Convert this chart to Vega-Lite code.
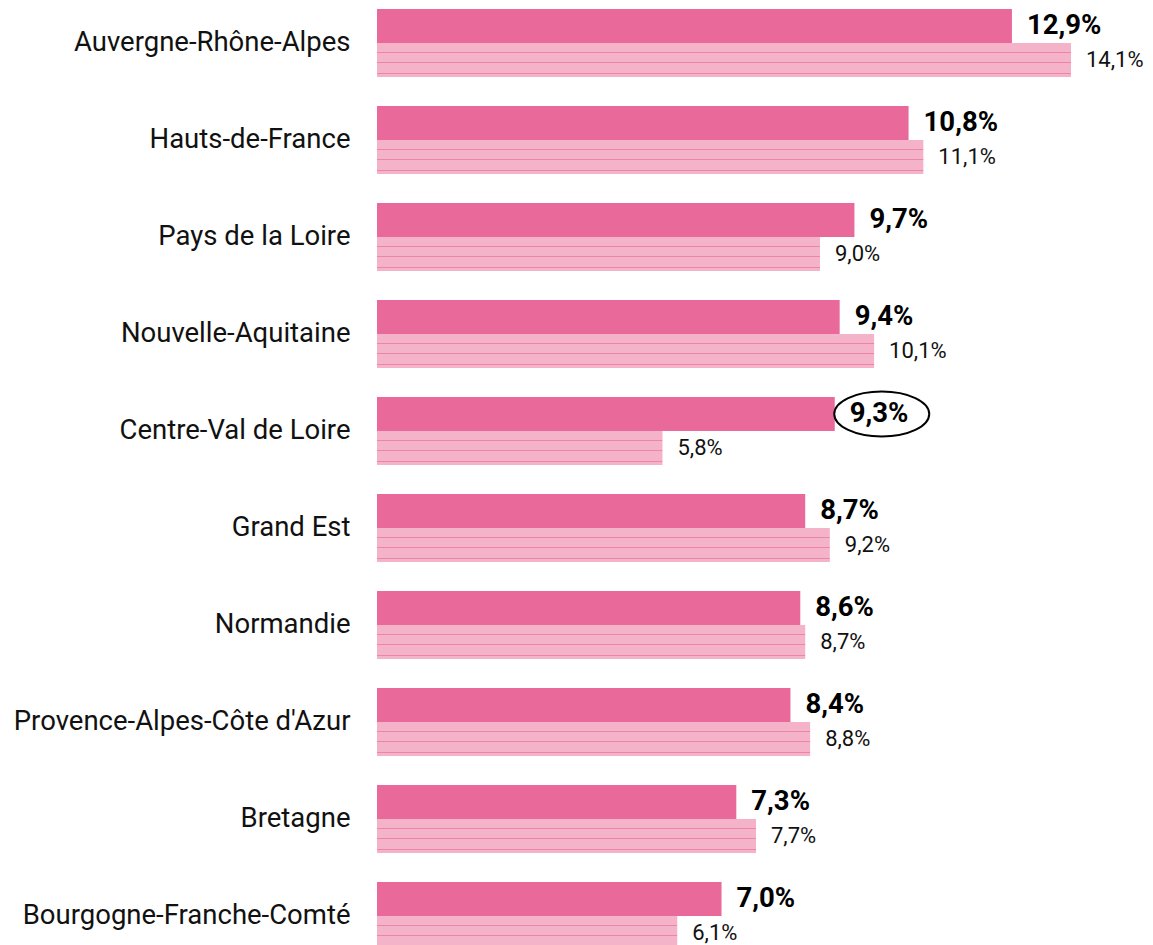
{
  "$schema": "https://vega.github.io/schema/vega-lite/v6.json",
  "autosize": {"type": "none"},
  "padding": {"left": 377, "top": 0, "right": 0, "bottom": 0},
  "width": 776,
  "height": 945,
  "config": {
    "font": "Roboto",
    "view": {"stroke": null},
    "locale": {"number": {"decimal": ",", "thousands": " ", "grouping": [3], "currency": ["", " €"]}}
  },
  "data": {
    "values": [
      {"region": "Auvergne-Rhône-Alpes", "serie": "2024", "taux": 0.129},
      {"region": "Auvergne-Rhône-Alpes", "serie": "2023", "taux": 0.141},
      {"region": "Hauts-de-France", "serie": "2024", "taux": 0.108},
      {"region": "Hauts-de-France", "serie": "2023", "taux": 0.111},
      {"region": "Pays de la Loire", "serie": "2024", "taux": 0.097},
      {"region": "Pays de la Loire", "serie": "2023", "taux": 0.090},
      {"region": "Nouvelle-Aquitaine", "serie": "2024", "taux": 0.094},
      {"region": "Nouvelle-Aquitaine", "serie": "2023", "taux": 0.101},
      {"region": "Centre-Val de Loire", "serie": "2024", "taux": 0.093},
      {"region": "Centre-Val de Loire", "serie": "2023", "taux": 0.058},
      {"region": "Grand Est", "serie": "2024", "taux": 0.087},
      {"region": "Grand Est", "serie": "2023", "taux": 0.092},
      {"region": "Normandie", "serie": "2024", "taux": 0.086},
      {"region": "Normandie", "serie": "2023", "taux": 0.087},
      {"region": "Provence-Alpes-Côte d'Azur", "serie": "2024", "taux": 0.084},
      {"region": "Provence-Alpes-Côte d'Azur", "serie": "2023", "taux": 0.088},
      {"region": "Bretagne", "serie": "2024", "taux": 0.073},
      {"region": "Bretagne", "serie": "2023", "taux": 0.077},
      {"region": "Bourgogne-Franche-Comté", "serie": "2024", "taux": 0.070},
      {"region": "Bourgogne-Franche-Comté", "serie": "2023", "taux": 0.061}
    ]
  },
  "encoding": {
    "y": {
      "field": "region",
      "type": "nominal",
      "sort": null,
      "scale": {"range": [9, 950], "paddingInner": 0.299, "paddingOuter": 0},
      "axis": {
        "title": null,
        "domain": false,
        "ticks": false,
        "labelPadding": 27,
        "labelFontSize": 27.5,
        "labelColor": "#111111",
        "labelLimit": 400
      }
    },
    "yOffset": {
      "field": "serie",
      "type": "nominal",
      "sort": ["2024", "2023"],
      "scale": {"paddingInner": 0, "paddingOuter": 0}
    },
    "x": {
      "field": "taux",
      "type": "quantitative",
      "scale": {"domain": [0, 0.141], "range": [0, 694], "nice": false, "zero": true},
      "axis": null
    }
  },
  "layer": [
    {
      "transform": [{"filter": "datum.serie === '2024'"}],
      "mark": {"type": "bar", "fill": "#E8699A", "cornerRadius": 0}
    },
    {
      "transform": [{"filter": "datum.serie === '2023'"}],
      "mark": {
        "type": "bar",
        "fill": {
          "gradient": "linear",
          "x1": 0, "y1": 0, "x2": 0, "y2": 1,
          "stops": [
            {"offset": 0, "color": "#F4B3C9"},
            {"offset": 0.255, "color": "#F4B3C9"},
            {"offset": 0.255, "color": "#ED85AB"},
            {"offset": 0.29, "color": "#ED85AB"},
            {"offset": 0.29, "color": "#F4B3C9"},
            {"offset": 0.565, "color": "#F4B3C9"},
            {"offset": 0.565, "color": "#ED85AB"},
            {"offset": 0.6, "color": "#ED85AB"},
            {"offset": 0.6, "color": "#F4B3C9"},
            {"offset": 0.875, "color": "#F4B3C9"},
            {"offset": 0.875, "color": "#ED85AB"},
            {"offset": 0.91, "color": "#ED85AB"},
            {"offset": 0.91, "color": "#F4B3C9"},
            {"offset": 1, "color": "#F4B3C9"}
          ]
        }
      }
    },
    {
      "transform": [{"filter": "datum.serie === '2024'"}],
      "mark": {"type": "text", "align": "left", "baseline": "middle", "dx": 15, "fontSize": 27.5, "fontWeight": "bold", "color": "#000000"},
      "encoding": {"text": {"field": "taux", "type": "quantitative", "format": ".1%"}}
    },
    {
      "transform": [{"filter": "datum.serie === '2023'"}],
      "mark": {"type": "text", "align": "left", "baseline": "middle", "dx": 15, "fontSize": 22, "color": "#111111"},
      "encoding": {"text": {"field": "taux", "type": "quantitative", "format": ".1%"}}
    },
    {
      "transform": [{"filter": "datum.serie === '2024' && datum.region === 'Centre-Val de Loire'"}],
      "mark": {
        "type": "point",
        "shape": "M-1,0 C-1,-0.262 -0.552,-0.474 0,-0.474 C0.552,-0.474 1,-0.262 1,0 C1,0.262 0.552,0.474 0,0.474 C-0.552,0.474 -1,0.262 -1,0 Z",
        "size": 9025,
        "filled": false,
        "stroke": "#000000",
        "strokeWidth": 2,
        "opacity": 1,
        "xOffset": 47
      }
    }
  ]
}
